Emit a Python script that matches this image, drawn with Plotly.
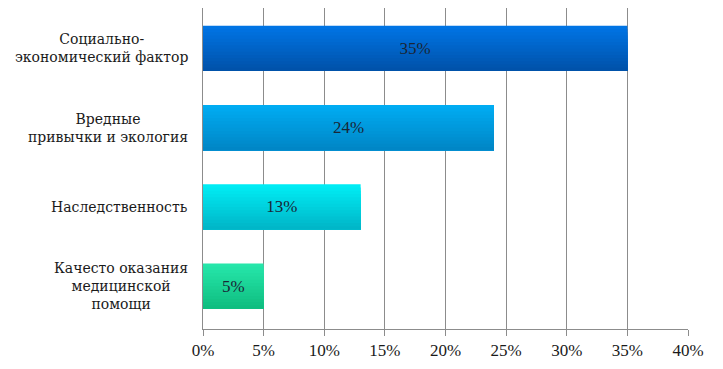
import plotly.graph_objects as go

categories = ["Социально-<br>экономический фактор",
              "Вредные<br>привычки и экология",
              "Наследственность",
              "Качесто оказания<br>медицинской<br>помощи"]
values = [35, 24, 13, 5]
top_colors = [(0, 116, 228), (0, 172, 242), (0, 236, 244), (38, 230, 170)]
bottom_colors = [(0, 82, 170), (0, 134, 198), (0, 182, 200), (15, 190, 128)]
xticks = [0, 5, 10, 15, 20, 25, 30, 35, 40]
xticklabels = [f"{v}%" for v in xticks]

BAR_W = 0.57
N_STRIPS = 14

fig = go.Figure()
h = BAR_W / N_STRIPS
for k in range(N_STRIPS):
    t = k / (N_STRIPS - 1)
    cols = ["rgb(%d,%d,%d)" % tuple(round(a + (b - a) * t) for a, b in zip(tc, bc))
            for tc, bc in zip(top_colors, bottom_colors)]
    fig.add_trace(go.Bar(
        y=categories, x=values, orientation="h",
        marker=dict(color=cols, line=dict(width=0)),
        width=BAR_W - k * h, offset=-BAR_W / 2 + k * h,
        hoverinfo="skip",
    ))

fig.add_trace(go.Bar(
    y=categories, x=values, orientation="h",
    marker=dict(color="rgba(0,0,0,0)", line=dict(width=0)),
    text=[f"{v}%" for v in values], textposition="inside",
    insidetextanchor="middle",
    textfont=dict(family="Liberation Serif", size=17, color="#1a2636"),
    width=BAR_W,
))

for c in categories:
    fig.add_annotation(x=0, xref="paper", xanchor="right", xshift=-13,
                       y=c, yref="y", text=c, showarrow=False, align="center",
                       font=dict(family="DejaVu Serif", size=14, color="#1a1a1a"))

fig.update_layout(
    width=723, height=369,
    margin=dict(l=195, r=43, t=0, b=48),
    paper_bgcolor="white", plot_bgcolor="white",
    showlegend=False, barmode="overlay",
)
fig.update_xaxes(range=[0, 40], tickvals=xticks, ticktext=xticklabels,
                 showgrid=True, gridcolor="#8c8c8c", gridwidth=1,
                 showline=True, linecolor="#8c8c8c", linewidth=1,
                 ticks="outside", ticklen=6, tickcolor="#8c8c8c",
                 tickfont=dict(family="Liberation Serif", size=17, color="#1a1a1a"),
                 zeroline=False, fixedrange=True)
fig.update_yaxes(range=[3.54, -0.51], showticklabels=False,
                 showline=True, linecolor="#8c8c8c", linewidth=1,
                 showgrid=False, ticks="", fixedrange=True)

fig.write_html("out.html")
